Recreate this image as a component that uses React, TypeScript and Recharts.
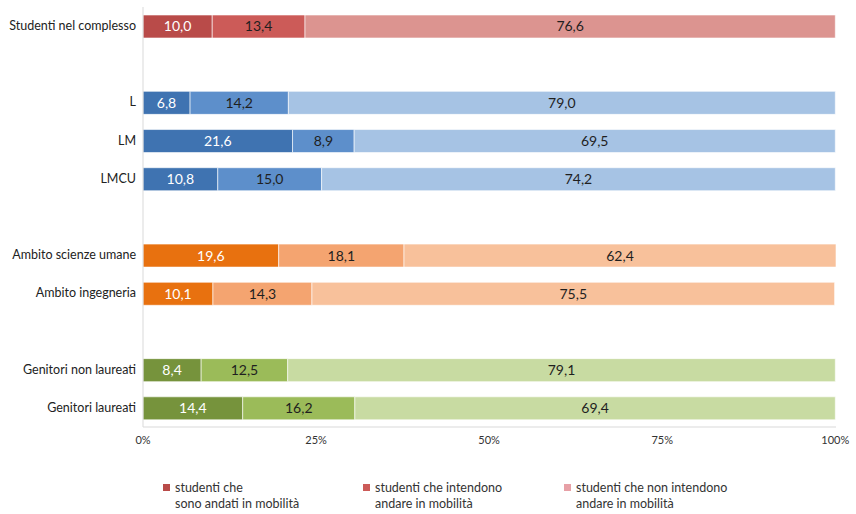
import { BarChart, Bar, XAxis, YAxis, Cell, LabelList } from "recharts"

// rows from top to bottom; empty strings are spacer rows between the groups
const categories = [
  "Studenti nel complesso", "", "L", "LM", "LMCU", "",
  "Ambito scienze umane", "Ambito ingegneria", "", "Genitori non laureati", "Genitori laureati",
]
const groups = ["red", null, "blue", "blue", "blue", null, "orange", "orange", null, "green", "green"]
const andati = [10.0, null, 6.8, 21.6, 10.8, null, 19.6, 10.1, null, 8.4, 14.4]
const intendono = [13.4, null, 14.2, 8.9, 15.0, null, 18.1, 14.3, null, 12.5, 16.2]
const nonIntendono = [76.6, null, 79.0, 69.5, 74.2, null, 62.4, 75.5, null, 79.1, 69.4]
const xTicks = [0, 25, 50, 75, 100]
const legendLabels = [
  ["studenti che", "sono andati in mobilità"],
  ["studenti che intendono", "andare in mobilità"],
  ["studenti che non intendono", "andare in mobilità"],
]

const palette: Record<string, [string, string, string]> = {
  red: ["#b94b49", "#cc5b58", "#dc9490"],
  blue: ["#3f73b1", "#5d8fcb", "#a6c3e4"],
  orange: ["#e8710f", "#f4a470", "#f8c19b"],
  green: ["#76933c", "#9bbb59", "#c8dba2"],
}
const legendColors = ["#b94b49", "#cc5b58", "#e7a0a6"]

// keys must stay unique for the category axis
const data = categories.map((c, i) => ({
  key: c || " ".repeat(i + 1),
  label: c,
  group: groups[i],
  andati: andati[i],
  intendono: intendono[i],
  nonIntendono: nonIntendono[i],
}))

const fmt = (v: unknown) => (v == null ? "" : Number(v).toFixed(1).replace(".", ","))

const FONT = "Lato, 'Open Sans', sans-serif"

function CategoryTick({ x, y, payload }: { x?: number; y?: number; payload?: { value: string } }) {
  return (
    <text x={x} y={y} dy={4} textAnchor="end" fontSize={12.5} fill="#222" fontFamily={FONT}>
      {String(payload?.value ?? "").trim()}
    </text>
  )
}

function LegendBox() {
  const xs = [163, 363, 564]
  return (
    <div style={{ position: "absolute", left: 0, top: 480, width: 856, height: 34, fontFamily: FONT, fontSize: 12.5, color: "#333" }}>
      {legendLabels.map((lines, i) => (
        <div key={i} style={{ position: "absolute", left: xs[i], top: 0, display: "flex", lineHeight: "16px" }}>
          <span style={{ width: 7, height: 7, background: legendColors[i], marginTop: 4, marginRight: 5 }} />
          <div>
            {lines.map((l, j) => <div key={j}>{l}</div>)}
          </div>
        </div>
      ))}
    </div>
  )
}

const series = [
  { key: "andati", idx: 0, text: "#ffffff" },
  { key: "intendono", idx: 1, text: "#1f1f1f" },
  { key: "nonIntendono", idx: 2, text: "#1f1f1f" },
]

export default function App() {
  return (
    <div style={{ position: "absolute", left: 0, top: 0, width: 856, height: 514, background: "#fff" }}>
      <BarChart
        width={856}
        height={470}
        data={data}
        layout="vertical"
        margin={{ top: 7, right: 20, bottom: 13, left: 0 }}
        barSize={23}
      >
        <XAxis
          type="number"
          domain={[0, 100]}
          ticks={xTicks}
          tickFormatter={(v) => `${v}%`}
          tick={{ fontSize: 11, fill: "#333", fontFamily: FONT }}
          axisLine={{ stroke: "#d9d9d9" }}
          tickLine={false}
          tickSize={0}
          tickMargin={9}
          height={30}
        />
        <YAxis
          type="category"
          dataKey="key"
          width={143}
          tick={<CategoryTick />}
          axisLine={{ stroke: "#d9d9d9" }}
          tickLine={false}
          tickSize={0}
          tickMargin={7}
          interval={0}
        />
        {series.map((s) => (
          <Bar key={s.key} dataKey={s.key} stackId="a" isAnimationActive={false} stroke="#fff" strokeWidth={0.6}>
            {data.map((d, i) => (
              <Cell key={i} fill={d.group ? palette[d.group][s.idx] : "none"} />
            ))}
            <LabelList
              dataKey={s.key}
              position="center"
              formatter={fmt}
              style={{ fontSize: 14, fill: s.text, fontFamily: FONT }}
            />
          </Bar>
        ))}
      </BarChart>
      <LegendBox />
    </div>
  )
}
